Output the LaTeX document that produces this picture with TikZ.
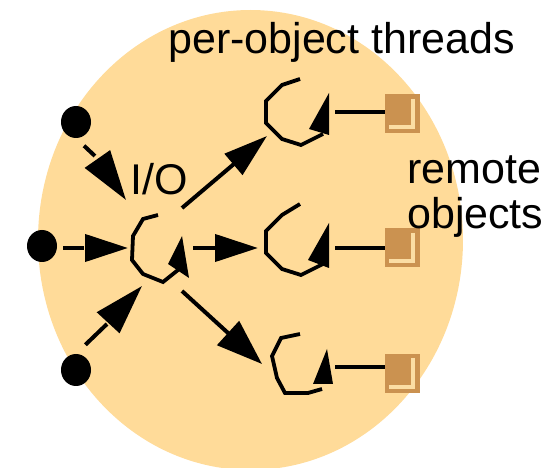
\documentclass[tikz,border=0pt]{standalone}
\usepackage{fontspec}
\setmainfont{Liberation Sans}
\usetikzlibrary{arrows.meta,shapes.geometric}
\definecolor{sandbg}{HTML}{FFDB99}
\definecolor{objtan}{HTML}{CB9250}
\definecolor{objlight}{HTML}{FBDDA4}
\tikzset{
	bigtext/.style={anchor=base west,inner sep=0pt,font=\fontsize{43}{44}\selectfont},
	dot/.style={ellipse,fill=black,inner sep=0pt,minimum width=30pt,minimum height=32pt},
	objbox/.style={rectangle,fill=objtan,inner sep=0pt,minimum width=35pt,minimum height=39pt},
	link/.style={line width=4pt},
	threadline/.style={line width=3.8pt},
	flow/.style 2 args={line width=4pt,-{Triangle[length=#1pt,width=#2pt]}},
}
\begin{document}
\begin{tikzpicture}[x=1pt,y=-1pt]
\useasboundingbox (0,0) rectangle (558,468);
\fill[sandbg] (250.5,240) ellipse (212.5 and 230);
\node[dot] (d1) at (76,122) {};
\node[dot] (d2) at (42,246) {};
\node[dot] (d3) at (76,370) {};
\coordinate (k1) at (96,157);
\coordinate (k2) at (83,248);
\coordinate (k3) at (107,324);
\coordinate (t1) at (126,200);
\coordinate (t2) at (128,248);
\coordinate (t3) at (142,286);
\draw[flow={50}{30},dash pattern=on 0pt off 11pt on 15pt off 200pt] (d1.south) -- (k1) -- (t1);
\draw[flow={43}{27},dash pattern=on 0pt off 6pt on 20pt off 200pt] (k2 -| d2.east) -- (k2) -- (t2);
\draw[flow={50}{30},dash pattern=on 0pt off 13pt on 30pt off 200pt] (d3.north) -- (k3) -- (t3);
\draw[threadline] (158,215) -- (143,219) -- (133,236) -- (132,260) -- (143,274) -- (163,282) -- (178,270);
\draw[threadline] (300,79) -- (282,85) -- (266,101) -- (266,123) -- (282,139) -- (301,145) -- (323,134);
\draw[threadline] (300,204) -- (282,215) -- (266,231) -- (266,253) -- (282,269) -- (301,275) -- (323,264);
\draw[threadline] (300,334) -- (281,338) -- (272,356) -- (277,378) -- (285,393) -- (308,393) -- (322,389);
\fill (168,264) -- (189,278) -- (182,236) -- cycle;
\fill (309,129) -- (329,135) -- (329,93) -- cycle;
\fill (308,260) -- (329,268) -- (329,223) -- cycle;
\fill (313,384) -- (333,384) -- (327,349) -- cycle;
\coordinate (a1) at (182,208);
\coordinate (a2) at (193,248);
\coordinate (a3) at (182,291);
\coordinate (b1) at (267,136);
\coordinate (b2) at (258,248);
\coordinate (b3) at (262,364);
\draw[flow={44}{27}] (a1) -- (b1);
\draw[flow={43}{27}] (a2) -- (b2);
\draw[flow={46}{32}] (a3) -- (b3);
\node[objbox] (o1) at (402.5,113.5) {};
\node[objbox] (o2) at (402.5,248) {};
\node[objbox] (o3) at (402.5,373.5) {};
\draw[objlight,line width=4pt] (413,99) -- (413,127) -- (389,127);
\draw[objlight,line width=4pt] (413,233) -- (413,261) -- (389,261);
\draw[objlight,line width=4pt] (413,358) -- (413,387) -- (389,387);
\coordinate (l1) at (335,112);
\coordinate (l2) at (335,248);
\coordinate (l3) at (335,367);
\draw[link] (l1) -- (l1 -| o1.west);
\draw[link] (l2) -- (l2 -| o2.west);
\draw[link] (l3) -- (l3 -| o3.west);
\node[bigtext] (ttl) at (168,53.5) {per-object threads};
\node[bigtext] (io) at (130,195) {I/O};
\node[bigtext] (rem) at (407,184) {remote};
\node[bigtext] (obj) at (407,229) {objects};
\end{tikzpicture}
\end{document}
